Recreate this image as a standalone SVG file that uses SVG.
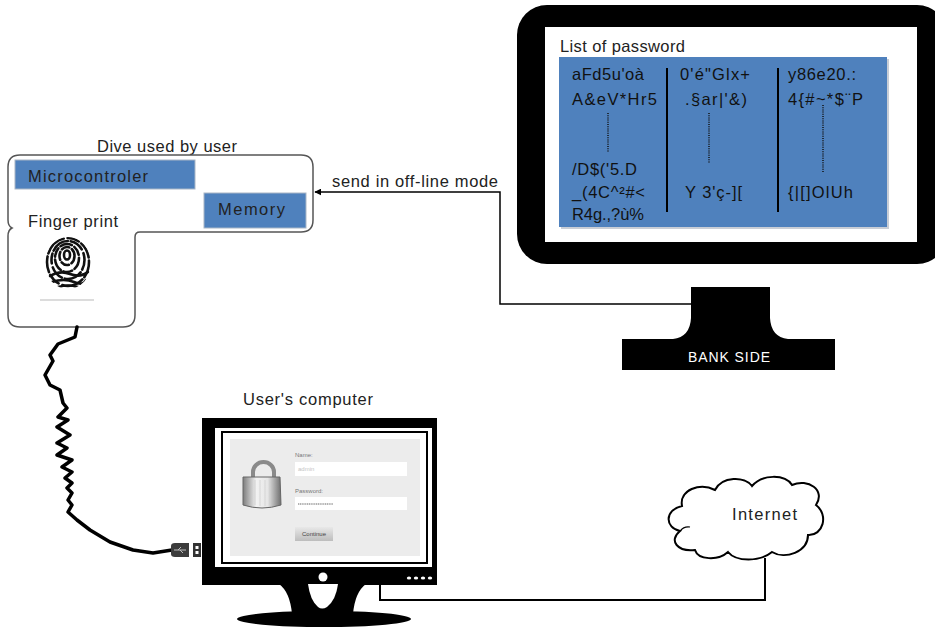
<svg xmlns="http://www.w3.org/2000/svg" width="935" height="628" viewBox="0 0 935 628">
  <style>
    .lbl { font-family: "Liberation Sans", Arial, sans-serif; font-size: 16.5px; fill: #222; }
    .pw { font-family: "Liberation Sans", Arial, sans-serif; font-size: 16.5px; fill: #111; }
    .tiny { font-family: "Liberation Sans", Arial, sans-serif; font-size: 6px; fill: #777; }
    .blue { fill: #4f81bd; stroke: #a9b6c6; stroke-width: 1; }
    .wire { fill: none; stroke: #000; stroke-width: 1.5; }
    .dots { stroke: #111; stroke-width: 1.5; stroke-dasharray: 1 1.2; }
    .ridge { fill: none; stroke: #111; stroke-width: 2.6; stroke-linecap: round; }
  </style>
  <defs>
    <marker id="arrow" viewBox="0 0 10 10" refX="9" refY="5" markerWidth="7" markerHeight="7" orient="auto-start-reverse" markerUnits="userSpaceOnUse">
      <path d="M0,0 L10,5 L0,10 Z" fill="#000"/>
    </marker>
    <linearGradient id="lockBody" x1="0" y1="0" x2="1" y2="0">
      <stop offset="0" stop-color="#7d7d7d"/>
      <stop offset="0.35" stop-color="#f2f2f2"/>
      <stop offset="0.65" stop-color="#e6e6e6"/>
      <stop offset="1" stop-color="#6f6f6f"/>
    </linearGradient>
    <linearGradient id="btn" x1="0" y1="0" x2="0" y2="1">
      <stop offset="0" stop-color="#e8e8e8"/>
      <stop offset="1" stop-color="#bdbdbd"/>
    </linearGradient>
    <clipPath id="fpClip">
      <ellipse cx="68" cy="263" rx="23" ry="26"/>
    </clipPath>
  </defs>

  <rect width="935" height="628" fill="#fff"/>

  <!-- Bank side monitor with the password list -->
  <g id="bank-side">
    <rect x="517" y="5" width="430" height="259" rx="30" fill="#000"/>
    <rect x="545" y="27" width="372" height="215" fill="#fff"/>
    <text class="lbl" x="560" y="52" textLength="125" lengthAdjust="spacing">List of password</text>
    <rect x="561" y="59" width="328" height="170" fill="#c9ced6"/>
    <rect x="559" y="57" width="328" height="170" fill="#4f81bd"/>
    <line x1="667" y1="68" x2="667" y2="212" stroke="#000" stroke-width="2"/>
    <line x1="778" y1="68" x2="778" y2="212" stroke="#000" stroke-width="2"/>
    <text class="pw" x="572" y="80" textLength="72" lengthAdjust="spacing">aFd5u'oà</text>
    <text class="pw" x="572" y="105" textLength="85" lengthAdjust="spacing">A&amp;eV*Hr5</text>
    <line class="dots" x1="608" y1="113" x2="608" y2="152"/>
    <text class="pw" x="572" y="175" textLength="65" lengthAdjust="spacing">/D$('5.D</text>
    <text class="pw" x="572" y="198" textLength="73" lengthAdjust="spacing">_(4C^²#&lt;</text>
    <text class="pw" x="572" y="220" textLength="72" lengthAdjust="spacing">R4g.,?ù%</text>
    <text class="pw" x="680" y="80" textLength="70" lengthAdjust="spacing">0'é"Glx+</text>
    <text class="pw" x="685" y="105" textLength="62" lengthAdjust="spacing">.§ar|'&amp;)</text>
    <line class="dots" x1="709" y1="113" x2="709" y2="163"/>
    <text class="pw" x="685" y="198" textLength="57" lengthAdjust="spacing">Y 3'ç-][</text>
    <text class="pw" x="788" y="80" textLength="68" lengthAdjust="spacing">y86e20.:</text>
    <text class="pw" x="788" y="105" textLength="75" lengthAdjust="spacing">4{#~*$¨P</text>
    <line class="dots" x1="823" y1="105" x2="823" y2="173"/>
    <text class="pw" x="788" y="198" textLength="65" lengthAdjust="spacing">{|[]OlUh</text>
    <!-- stand -->
    <path d="M691 287 H770 V318 Q771 337 788 339 H835 V370 H622 V339 H673 Q690 337 691 318 Z" fill="#000"/>
    <text x="729" y="362" text-anchor="middle" font-family="Liberation Sans, Arial, sans-serif" font-size="14" fill="#fff" textLength="82" lengthAdjust="spacing">BANK SIDE</text>
  </g>

  <!-- Device used by the user -->
  <g id="user-device">
    <text class="lbl" x="97" y="152" textLength="140" lengthAdjust="spacing">Dive used by user</text>
    <path d="M20 155 H301 Q313 155 313 167 V220 Q313 232 301 232 H140 Q135 232 135 237 V315 Q135 327 123 327 H20 Q8 327 8 315 V236 Q8 230 12 228 Q8 226 8 220 V167 Q8 155 20 155 Z" fill="#fff" stroke="#555" stroke-width="1.5"/>
    <rect class="blue" x="15" y="160" width="180" height="29"/>
    <text class="lbl" x="28" y="182" textLength="120" lengthAdjust="spacing">Microcontroler</text>
    <rect class="blue" x="204" y="193" width="102" height="35"/>
    <text class="lbl" x="218" y="215" textLength="67" lengthAdjust="spacing">Memory</text>
    <text class="lbl" x="28" y="227" textLength="90" lengthAdjust="spacing">Finger print</text>
    <!-- fingerprint sensor -->
    <g clip-path="url(#fpClip)">
      <ellipse class="ridge" cx="68" cy="262" rx="21" ry="24" stroke-dasharray="16 3 22 4 12 3"/>
      <ellipse class="ridge" cx="68" cy="260" rx="16.5" ry="19" stroke-dasharray="10 3 18 3 14 4"/>
      <ellipse class="ridge" cx="67" cy="258" rx="12" ry="14" stroke-dasharray="12 3 9 3"/>
      <ellipse class="ridge" cx="67" cy="256" rx="7.5" ry="9" stroke-dasharray="8 3"/>
      <ellipse class="ridge" cx="67" cy="255" rx="3" ry="4.5"/>
      <path class="ridge" d="M50 276 Q60 270 70 274 T88 272 M52 282 Q64 278 74 282 T86 280 M58 287 Q68 284 78 287"/>
    </g>
    <line x1="40" y1="300" x2="94" y2="300" stroke="#dcdcdc" stroke-width="2"/>
  </g>

  <!-- User's computer -->
  <g id="user-computer">
    <text class="lbl" x="243" y="405" textLength="130" lengthAdjust="spacing">User's computer</text>
    <rect x="202" y="418" width="235" height="167" fill="#000"/>
    <rect x="215" y="428" width="217" height="139" fill="#fff"/>
    <rect x="222" y="432" width="205" height="131" fill="#fff" stroke="#000" stroke-width="2"/>
    <rect x="230" y="439" width="190" height="117" fill="#ececec"/>
    <!-- padlock -->
    <path d="M253 478 V472 A10.5 10 0 0 1 274 472 V478" fill="none" stroke="#8a8a8a" stroke-width="4"/>
    <path d="M243 477 H280 L281 505 Q262 511 243 505 Z" fill="url(#lockBody)" stroke="#666" stroke-width="1"/>
    <g stroke="#cfcfcf" stroke-width="0.8">
      <line x1="255" y1="480" x2="255" y2="505"/>
      <line x1="260" y1="480" x2="260" y2="506"/>
      <line x1="265" y1="480" x2="265" y2="506"/>
      <line x1="270" y1="480" x2="270" y2="505"/>
    </g>
    <!-- login form -->
    <text class="tiny" x="295" y="457">Name:</text>
    <rect x="295" y="462" width="112" height="14" fill="#fff"/>
    <text class="tiny" x="298" y="471" style="fill:#c4c4c4">admin</text>
    <text class="tiny" x="295" y="493">Password:</text>
    <rect x="295" y="497" width="112" height="13" fill="#fff"/>
    <line x1="298" y1="504" x2="333" y2="504" stroke="#666" stroke-width="1" stroke-dasharray="1.2 0.6"/>
    <rect x="295" y="527" width="38" height="14" fill="url(#btn)"/>
    <text class="tiny" x="314" y="536" text-anchor="middle" style="fill:#444">Continue</text>
    <!-- front bezel details -->
    <circle cx="323" cy="577" r="4.5" fill="#fff"/>
    <g fill="#fff">
      <ellipse cx="409" cy="578" rx="2.2" ry="1.5"/>
      <ellipse cx="416" cy="578" rx="2.2" ry="1.5"/>
      <ellipse cx="423" cy="578" rx="2.2" ry="1.5"/>
      <ellipse cx="430" cy="578" rx="2.2" ry="1.5"/>
    </g>
    <!-- stand -->
    <path d="M279 584 H366 Q355 592 353 614 H292 Q290 592 279 584 Z" fill="#000"/>
    <path d="M308 584 H338 Q336 600 327 607 Q322 610 318 607 Q310 600 308 584 Z" fill="#fff"/>
    <ellipse cx="324" cy="619" rx="87" ry="8" fill="#000"/>
  </g>

  <!-- Internet cloud -->
  <g id="internet">
    <path d="M695 550 C678 552 668 541 680 531 C665 528 664 510 682 506 C679 490 700 482 715 490 C722 476 745 476 752 486 C762 474 785 474 792 485 C808 478 826 490 816 505 C829 515 823 536 808 535 C808 552 785 560 772 552 C760 562 736 562 728 552 C718 561 698 560 695 550 Z" fill="#fff" stroke="#000" stroke-width="2"/>
    <path d="M680 531 Q684 526 690 527" fill="none" stroke="#000" stroke-width="1.2"/>
    <text class="lbl" x="732" y="520" textLength="65" lengthAdjust="spacing">Internet</text>
  </g>

  <!-- Connectors -->
  <g id="connectors">
    <!-- bank side to device, off-line transfer -->
    <path class="wire" d="M691 304 H500 V192 H315" marker-end="url(#arrow)"/>
    <text class="lbl" x="332" y="187" textLength="166" lengthAdjust="spacing">send in off-line mode</text>
    <!-- computer to internet -->
    <path d="M380 585 V600 H765 V558" fill="none" stroke="#000" stroke-width="2"/>
    <!-- coiled USB cable from device to computer -->
    <polyline points="77,327 75,337 58,344 50,355 53,361 45,375 50,385 60,390 63,403 67,408 58,417 68,420 57,427 70,435 57,443 67,448 57,455 72,460 62,467 72,472 65,478 72,483 67,488 72,493 68,500 72,505 68,512 77,520 90,530 110,542 133,550 153,553 172,550" fill="none" stroke="#000" stroke-width="3.5" stroke-linejoin="round" stroke-linecap="round"/>
    <path d="M171 546 Q171 543 175 543 H189 V557 H175 Q171 557 171 554 Z" fill="#3c3c3c"/>
    <path d="M174 550 H186 M178 550 L181 547 M180 550 L183 553" stroke="#bdbdbd" stroke-width="1" fill="none"/>
    <rect x="193" y="543" width="8" height="14" fill="#333"/>
    <rect x="195.5" y="546" width="3" height="3" fill="#fff"/>
    <rect x="195.5" y="551" width="3" height="3" fill="#fff"/>
  </g>
</svg>
